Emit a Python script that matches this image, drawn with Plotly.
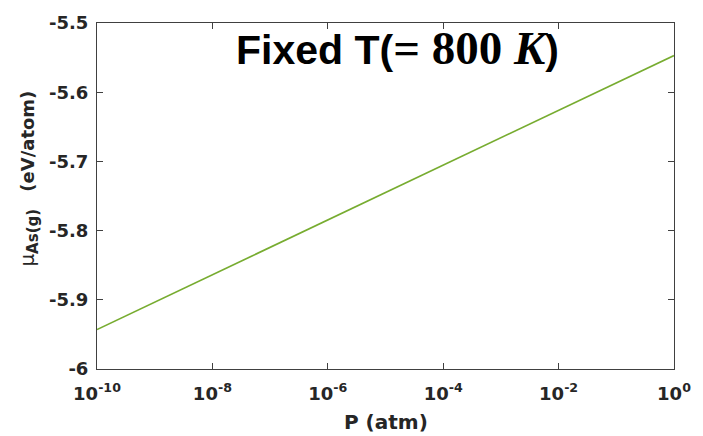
import plotly.graph_objects as go

# Data
pressure_atm = [1e-10, 1e-8, 1e-6, 1e-4, 1e-2, 1e0]
mu_as_g = [-5.943, -5.864, -5.785, -5.705, -5.626, -5.547]

x_tickvals = [1e-10, 1e-8, 1e-6, 1e-4, 1e-2, 1e0]
x_ticktext = ["10<sup>-10</sup>", "10<sup>-8</sup>", "10<sup>-6</sup>",
              "10<sup>-4</sup>", "10<sup>-2</sup>", "10<sup>0</sup>"]
y_tickvals = [-6, -5.9, -5.8, -5.7, -5.6, -5.5]
y_ticktext = ["-6", "-5.9", "-5.8", "-5.7", "-5.6", "-5.5"]

axis_color = "#404040"
text_color = "#262626"
tick_font = dict(family="DejaVu Sans", size=18, color=text_color, weight="bold")

fig = go.Figure()
fig.add_trace(go.Scatter(x=pressure_atm, y=mu_as_g, mode="lines",
                         line=dict(color="#77AC30", width=1.6), showlegend=False))

fig.update_layout(
    width=703, height=436,
    margin=dict(l=97, r=21, t=17, b=67),
    paper_bgcolor="white", plot_bgcolor="white",
    xaxis=dict(type="log", range=[-10, 0], tickvals=x_tickvals, ticktext=x_ticktext,
               showgrid=False, zeroline=False, showline=True, linecolor=axis_color,
               linewidth=1, mirror="ticks", ticks="inside", ticklen=6,
               tickcolor=axis_color, tickfont=tick_font, ticklabelstandoff=8),
    yaxis=dict(range=[-6, -5.5], tickvals=y_tickvals, ticktext=y_ticktext,
               showgrid=False, zeroline=False, showline=True, linecolor=axis_color,
               linewidth=1, mirror="ticks", ticks="inside", ticklen=6,
               tickcolor=axis_color, tickfont=tick_font, ticklabelstandoff=4),
)

# x-axis label
fig.add_annotation(xref="paper", yref="paper", x=0.5, y=-0.152, yanchor="middle",
                   text="<b>P (atm)</b>", showarrow=False,
                   font=dict(family="DejaVu Sans", size=20, color=text_color))
# y-axis label
fig.add_annotation(xref="paper", yref="paper", x=-0.118, y=0.55, xanchor="center",
                   yanchor="middle", textangle=-90, showarrow=False,
                   text=("<span style=\"font-size:20px\">μ</span><sub><span style=\"font-size:15px\"><b>As(g)</b></span></sub>"
                         "&nbsp;&nbsp;&nbsp;<b>(eV/atom)</b>"),
                   font=dict(family="DejaVu Sans", size=18, color=text_color))
# title inside plot
fig.add_annotation(xref="paper", yref="paper", x=0.52, y=0.928, xanchor="center",
                   yanchor="middle", showarrow=False,
                   text=("<b>Fixed T(</b><span style=\"font-family:'Liberation Serif';font-size:47px\"><b>=&nbsp;800&nbsp;<i>K</i></b></span><b>)</b>"),
                   font=dict(family="Liberation Sans", size=41, color="black"))

fig.write_html("out.html")
